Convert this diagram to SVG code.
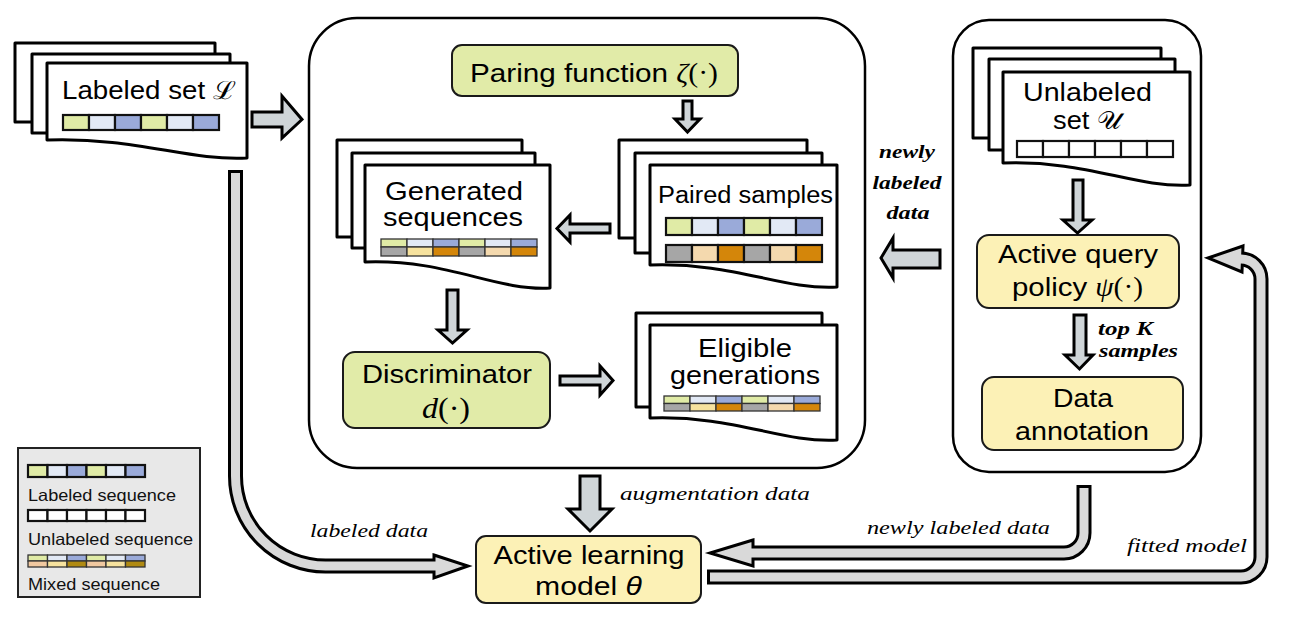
<svg xmlns="http://www.w3.org/2000/svg" width="1299" height="622" viewBox="0 0 1299 622">
<style>
.sheet{fill:#fff;stroke:#000;stroke-width:3;stroke-linejoin:round}
.frame{fill:#fff;stroke:#000;stroke-width:2.5}
.gbox{fill:#e1eba8;stroke:#1a1a1a;stroke-width:2}
.ybox{fill:#fcf1b6;stroke:#1a1a1a;stroke-width:2}
.lbl{font-family:"Liberation Sans",Arial,sans-serif;font-size:26.5px;fill:#000;text-anchor:middle}
.two{font-size:25px}
.leg{font-family:"Liberation Sans",Arial,sans-serif;font-size:16.5px;fill:#111}
.it{font-family:"Liberation Serif","Times New Roman",serif;font-style:italic;font-size:19px;fill:#000}
.bd{font-weight:bold}
.m{font-family:"Liberation Serif","DejaVu Serif",serif}
.c{stroke:#111;stroke-width:2.2}
.t{stroke:#333;stroke-width:1.3}
.G{fill:#e0eba6}.W{fill:#e2e9f5}.B{fill:#9aaad9}.K{fill:#a6a6a6}.P{fill:#f4d9ae}.O{fill:#d4860a}.Y{fill:#f6e29e}.E{fill:#fff}.Q{fill:#f0c8a0}.L{fill:#b08a12}
.arr{fill:#cfd5d8;stroke:#000;stroke-width:3;stroke-linejoin:miter}
.bo{fill:none;stroke:#000;stroke-width:15}
.bi{fill:none;stroke:#d9d9d9;stroke-width:9}
.bh{fill:#d9d9d9;stroke:#000;stroke-width:3;stroke-linejoin:miter}
</style>

<!-- containers -->
<g id="main-frame"><rect class="frame" x="309" y="18" width="556" height="450" rx="48"/></g>
<g id="right-frame"><rect class="frame" x="953" y="20" width="248" height="452" rx="36"/></g>

<!-- Labeled set -->
<g id="labeled-set">
  <rect class="sheet" x="15" y="43" width="200" height="79"/>
  <rect class="sheet" x="32" y="54" width="198" height="79"/>
  <path class="sheet" d="M47,63 H247 V158 C187,161 137,137 47,140 Z"/>
  <text class="lbl" x="149" y="99" textLength="174" lengthAdjust="spacingAndGlyphs" style="font-size:25px">Labeled set <tspan class="m">ℒ</tspan></text>
  <g class="c">
    <rect class="G" x="63" y="115" width="26" height="15"/><rect class="W" x="89" y="115" width="26" height="15"/><rect class="B" x="115" y="115" width="26" height="15"/>
    <rect class="G" x="141" y="115" width="26" height="15"/><rect class="W" x="167" y="115" width="26" height="15"/><rect class="B" x="193" y="115" width="26" height="15"/>
  </g>
</g>

<!-- Paring function -->
<g id="paring-function">
  <rect class="gbox" x="452" y="45" width="286" height="51" rx="10"/>
  <text class="lbl" x="594" y="82" textLength="248" lengthAdjust="spacingAndGlyphs">Paring function <tspan class="m" font-style="italic">ζ</tspan><tspan class="m">(·)</tspan></text>
</g>

<!-- Paired samples -->
<g id="paired-samples">
  <rect class="sheet" x="619" y="140" width="188" height="98"/>
  <rect class="sheet" x="635" y="153" width="187" height="100"/>
  <path class="sheet" d="M650,165 H837 V287 C781,290 734,262 650,265 Z"/>
  <text class="lbl" x="745.5" y="203" textLength="175" lengthAdjust="spacingAndGlyphs" style="font-size:23.5px">Paired samples</text>
  <g class="c">
    <rect class="G" x="666" y="218" width="26" height="17"/><rect class="W" x="692" y="218" width="26" height="17"/><rect class="B" x="718" y="218" width="26" height="17"/>
    <rect class="G" x="744" y="218" width="26" height="17"/><rect class="W" x="770" y="218" width="26" height="17"/><rect class="B" x="796" y="218" width="26" height="17"/>
    <rect class="K" x="666" y="245" width="26" height="17"/><rect class="P" x="692" y="245" width="26" height="17"/><rect class="O" x="718" y="245" width="26" height="17"/>
    <rect class="K" x="744" y="245" width="26" height="17"/><rect class="P" x="770" y="245" width="26" height="17"/><rect class="O" x="796" y="245" width="26" height="17"/>
  </g>
</g>

<!-- Generated sequences -->
<g id="generated-sequences">
  <rect class="sheet" x="337" y="140" width="185" height="97"/>
  <rect class="sheet" x="352" y="153" width="183" height="95"/>
  <path class="sheet" d="M365,165 H550 V288 C494.5,291 448,259 365,262 Z"/>
  <text class="lbl two" x="454" y="200" textLength="138" lengthAdjust="spacingAndGlyphs">Generated</text>
  <text class="lbl two" x="453" y="226" textLength="140" lengthAdjust="spacingAndGlyphs">sequences</text>
  <g class="t">
    <rect class="G" x="381" y="239" width="26" height="8"/><rect class="W" x="407" y="239" width="26" height="8"/><rect class="B" x="433" y="239" width="26" height="8"/>
    <rect class="G" x="459" y="239" width="26" height="8"/><rect class="W" x="485" y="239" width="26" height="8"/><rect class="B" x="511" y="239" width="26" height="8"/>
    <rect class="K" x="381" y="247" width="26" height="9"/><rect class="Y" x="407" y="247" width="26" height="9"/><rect class="O" x="433" y="247" width="26" height="9"/>
    <rect class="K" x="459" y="247" width="26" height="9"/><rect class="P" x="485" y="247" width="26" height="9"/><rect class="O" x="511" y="247" width="26" height="9"/>
  </g>
</g>

<!-- Discriminator -->
<g id="discriminator">
  <rect class="gbox" x="343" y="352" width="207" height="76" rx="12"/>
  <text class="lbl" x="447" y="383" textLength="170" lengthAdjust="spacingAndGlyphs">Discriminator</text>
  <text class="lbl m" x="446" y="418" textLength="48" lengthAdjust="spacingAndGlyphs" style="font-size:29px"><tspan font-style="italic">d</tspan>(·)</text>
</g>

<!-- Eligible generations -->
<g id="eligible-generations">
  <rect class="sheet" x="636" y="313" width="186" height="94"/>
  <path class="sheet" d="M650,325 H837 V440 C781,443 734,415 650,418 Z"/>
  <text class="lbl two" x="745" y="357" textLength="94" lengthAdjust="spacingAndGlyphs">Eligible</text>
  <text class="lbl two" x="745" y="384" textLength="150" lengthAdjust="spacingAndGlyphs">generations</text>
  <g class="t">
    <rect class="G" x="664" y="396" width="26" height="7.5"/><rect class="W" x="690" y="396" width="26" height="7.5"/><rect class="B" x="716" y="396" width="26" height="7.5"/>
    <rect class="G" x="742" y="396" width="26" height="7.5"/><rect class="W" x="768" y="396" width="26" height="7.5"/><rect class="B" x="794" y="396" width="26" height="7.5"/>
    <rect class="K" x="664" y="403.5" width="26" height="7.5"/><rect class="Y" x="690" y="403.5" width="26" height="7.5"/><rect class="O" x="716" y="403.5" width="26" height="7.5"/>
    <rect class="K" x="742" y="403.5" width="26" height="7.5"/><rect class="P" x="768" y="403.5" width="26" height="7.5"/><rect class="O" x="794" y="403.5" width="26" height="7.5"/>
  </g>
</g>

<!-- Unlabeled set -->
<g id="unlabeled-set">
  <rect class="sheet" x="973" y="48" width="188" height="90"/>
  <rect class="sheet" x="989" y="59" width="186" height="91"/>
  <path class="sheet" d="M1003,72 H1190 V185 C1134,188 1087,160 1003,163 Z"/>
  <text class="lbl two" x="1087.5" y="101" textLength="129" lengthAdjust="spacingAndGlyphs">Unlabeled</text>
  <text class="lbl two" x="1087.5" y="129" textLength="69" lengthAdjust="spacingAndGlyphs">set <tspan class="m">𝒰</tspan></text>
  <g class="c">
    <rect class="E" x="1017" y="141" width="26" height="16"/><rect class="E" x="1043" y="141" width="26" height="16"/><rect class="E" x="1069" y="141" width="26" height="16"/>
    <rect class="E" x="1095" y="141" width="26" height="16"/><rect class="E" x="1121" y="141" width="26" height="16"/><rect class="E" x="1147" y="141" width="26" height="16"/>
  </g>
</g>

<!-- Active query policy -->
<g id="active-query-policy">
  <rect class="ybox" x="977" y="235" width="202" height="73" rx="12"/>
  <text class="lbl" x="1078" y="263" textLength="160" lengthAdjust="spacingAndGlyphs">Active query</text>
  <text class="lbl" x="1077.5" y="296" textLength="131" lengthAdjust="spacingAndGlyphs">policy <tspan class="m" font-style="italic">ψ</tspan><tspan class="m">(·)</tspan></text>
</g>

<!-- Data annotation -->
<g id="data-annotation">
  <rect class="ybox" x="982" y="377" width="201" height="73" rx="12"/>
  <text class="lbl" x="1083" y="407" textLength="60" lengthAdjust="spacingAndGlyphs">Data</text>
  <text class="lbl" x="1082" y="440" textLength="134" lengthAdjust="spacingAndGlyphs">annotation</text>
</g>

<!-- Active learning model -->
<g id="active-learning-model">
  <rect class="ybox" x="476" y="536" width="225" height="67" rx="10"/>
  <text class="lbl" x="589" y="564" textLength="191" lengthAdjust="spacingAndGlyphs">Active learning</text>
  <text class="lbl" x="588.5" y="595" textLength="107" lengthAdjust="spacingAndGlyphs">model <tspan font-style="italic">θ</tspan></text>
</g>

<!-- Legend -->
<g id="legend">
  <rect x="18" y="448" width="182" height="149" fill="#e8e8e8" stroke="#222" stroke-width="2"/>
  <g class="c">
    <rect class="G" x="28" y="465" width="19.5" height="12"/><rect class="W" x="47.5" y="465" width="19.5" height="12"/><rect class="B" x="67" y="465" width="19.5" height="12"/>
    <rect class="G" x="86.5" y="465" width="19.5" height="12"/><rect class="W" x="106" y="465" width="19.5" height="12"/><rect class="B" x="125.5" y="465" width="19.5" height="12"/>
    <rect class="E" x="28" y="510" width="19.5" height="11"/><rect class="E" x="47.5" y="510" width="19.5" height="11"/><rect class="E" x="67" y="510" width="19.5" height="11"/>
    <rect class="E" x="86.5" y="510" width="19.5" height="11"/><rect class="E" x="106" y="510" width="19.5" height="11"/><rect class="E" x="125.5" y="510" width="19.5" height="11"/>
  </g>
  <g class="t">
    <rect class="G" x="28" y="555" width="19.5" height="6"/><rect class="W" x="47.5" y="555" width="19.5" height="6"/><rect class="B" x="67" y="555" width="19.5" height="6"/>
    <rect class="G" x="86.5" y="555" width="19.5" height="6"/><rect class="W" x="106" y="555" width="19.5" height="6"/><rect class="B" x="125.5" y="555" width="19.5" height="6"/>
    <rect class="Q" x="28" y="561" width="19.5" height="6"/><rect class="Y" x="47.5" y="561" width="19.5" height="6"/><rect class="L" x="67" y="561" width="19.5" height="6"/>
    <rect class="Q" x="86.5" y="561" width="19.5" height="6"/><rect class="Y" x="106" y="561" width="19.5" height="6"/><rect class="L" x="125.5" y="561" width="19.5" height="6"/>
  </g>
  <text class="leg" x="28" y="501" textLength="148" lengthAdjust="spacingAndGlyphs">Labeled sequence</text>
  <text class="leg" x="28" y="545" textLength="165" lengthAdjust="spacingAndGlyphs">Unlabeled sequence</text>
  <text class="leg" x="28" y="590" textLength="132" lengthAdjust="spacingAndGlyphs">Mixed sequence</text>
</g>

<!-- Connectors -->
<g id="connectors">
  <polygon class="arr" points="252,112 282,112 282,96 302,119.5 282,138 282,127 252,127"/>
  <polygon class="arr" points="683,101 692,101 692,119 700,119 687.5,132 675,119 683,119"/>
  <polygon class="arr" points="610,224 570,224 570,215 557,228.5 570,242 570,233 610,233"/>
  <polygon class="arr" points="447,290 458,290 458,330 467,330 452.5,343 438,330 447,330"/>
  <polygon class="arr" points="560,376 600,376 600,366 613,380.5 600,395 600,385 560,385"/>
  <polygon class="arr" points="1073,180 1083,180 1083,220 1092,220 1077.5,233 1063,220 1073,220"/>
  <polygon class="arr" points="1074,315 1086,315 1086,355 1093,355 1079.5,369 1065,355 1074,355"/>
  <polygon class="arr" points="940,250 893,250 893,238 881,258 893,278 893,268 940,268"/>
  <polygon class="arr" points="580,476 600,476 600,509 612,509 590,531 568,509 580,509"/>

  <!-- labeled data -->
  <path class="bo" d="M235.5,170 V476 A90,90 0 0 0 325.5,566 H436"/>
  <polygon class="bh" points="434,555 468,566 434,578"/>
  <path class="bi" d="M235.5,173 V476 A90,90 0 0 0 325.5,566 H438"/>

  <!-- newly labeled data (bottom) -->
  <path class="bo" d="M1084,485 V533 A20,20 0 0 1 1064,553 H751"/>
  <polygon class="bh" points="753,540 710,553 753,566"/>
  <path class="bi" d="M1084,488 V533 A20,20 0 0 1 1064,553 H749"/>

  <!-- fitted model -->
  <path class="bo" d="M707,577 H1241 A20,20 0 0 0 1261,557 V279 A20,20 0 0 0 1241,259 H1240"/>
  <polygon class="bh" points="1243,246 1208,258 1242,272"/>
  <path class="bi" d="M710,577 H1241 A20,20 0 0 0 1261,557 V279 A20,20 0 0 0 1241,259 H1238"/>

  <text class="it" x="620" y="500" textLength="190" lengthAdjust="spacingAndGlyphs">augmentation data</text>
  <text class="it" x="310" y="537" textLength="118" lengthAdjust="spacingAndGlyphs">labeled data</text>
  <text class="it" x="867" y="534" textLength="183" lengthAdjust="spacingAndGlyphs">newly labeled data</text>
  <text class="it" x="1127" y="552" textLength="120" lengthAdjust="spacingAndGlyphs">fitted model</text>
  <text class="it bd" x="1098" y="335" textLength="55" lengthAdjust="spacingAndGlyphs">top K</text>
  <text class="it bd" x="1099" y="357" textLength="79" lengthAdjust="spacingAndGlyphs">samples</text>
  <text class="it bd" x="907" y="158" text-anchor="middle" textLength="56" lengthAdjust="spacingAndGlyphs">newly</text>
  <text class="it bd" x="907" y="189" text-anchor="middle" textLength="69" lengthAdjust="spacingAndGlyphs">labeled</text>
  <text class="it bd" x="908" y="219" text-anchor="middle" textLength="43" lengthAdjust="spacingAndGlyphs">data</text>
</g>
</svg>
